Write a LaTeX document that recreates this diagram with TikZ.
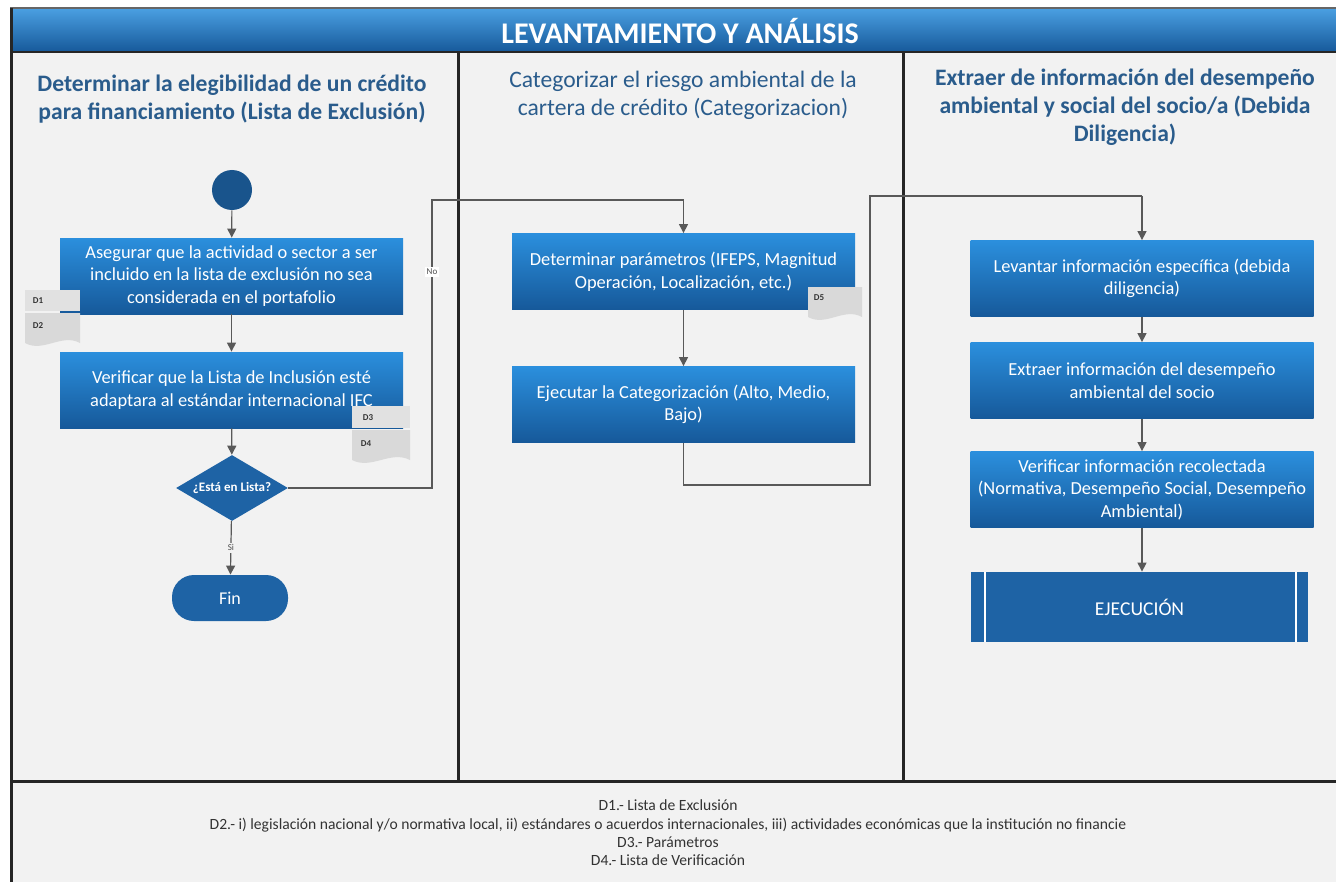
\documentclass[tikz,border=0pt]{standalone}
\usepackage{fontspec}
\setmainfont{Carlito}
\usetikzlibrary{positioning}
\usetikzlibrary{shapes.geometric}
\usetikzlibrary{arrows.meta}
\definecolor{fondo}{HTML}{F2F2F2}
\definecolor{azulclaro}{HTML}{2B8FDD}
\definecolor{azuloscuro}{HTML}{16599A}
\definecolor{azul}{HTML}{1E63A5}
\definecolor{titulo}{HTML}{2A5C8C}
\definecolor{gris}{HTML}{D9D9D9}
\newcommand\docshape[4]{% x, y top, width, height
  \fill[gris] (#1,#2) -- ++(#3,0) -- ++(0,#4)
    .. controls +(-#3/3,-10) and +(#3/3,10) .. ++(-#3,0) -- cycle;}

\tikzset{
  paso/.style={rectangle, minimum width=171.5pt, minimum height=38pt,
    inner sep=1pt, align=center, top color=azulclaro, bottom color=azuloscuro,
    text=white, font=\fontsize{9.2}{11.3}\selectfont},
  flecha/.style={draw=black!65, line width=0.6pt,
    -{Triangle[width=4.5pt,length=4.5pt]}},
  linea/.style={draw=black!65, line width=0.6pt},
  carril/.style={draw=black!85, line width=1.5pt},
  encabezado/.style={align=center, text=titulo,
    font=\fontsize{11.8}{14}\selectfont},
  etiqueta/.style={fill=white, inner sep=1pt, text=black!70,
    font=\fontsize{4.5}{5}\selectfont},
  docnombre/.style={font=\bfseries\fontsize{4.5}{5}\selectfont, text=black!80, inner sep=0pt}
}

\begin{document}
\begin{tikzpicture}[x=0.5pt, y=-0.5pt]

\useasboundingbox (0,0) rectangle (1336,882);
\fill[white] (0,0) rectangle (1336,882);
\fill[fondo] (10,8) rectangle (1336,882);

% barra de titulo
\shade[top color=azulclaro!85!white, bottom color=azuloscuro] (10,8) rectangle (1336,52);
\draw[black!85, line width=1.2pt] (10,52) -- (1336,52);
\draw[black!60, line width=0.8pt] (10,8) -- (1336,8);
\node[text=white, font=\bfseries\fontsize{15}{17}\selectfont] (titulo) at (680,31) {LEVANTAMIENTO Y ANÁLISIS};

% carriles
\draw[carril] (11,8) -- (11,882);
\draw[carril] (458,52) -- (458,781);
\draw[carril] (903,52) -- (903,781);
\draw[carril] (11,781) -- (1336,781);

\node[encabezado, font=\bfseries\fontsize{11.8}{14}\selectfont] (enc1) at (232,99)
  {Determinar la elegibilidad de un crédito\\para financiamiento (Lista de Exclusión)};
\node[encabezado] (enc2) at (683,95)
  {Categorizar el riesgo ambiental de la\\cartera de crédito (Categorizacion)};
\node[encabezado, font=\bfseries\fontsize{11.8}{14}\selectfont] (enc3) at (1125,107)
  {Extraer de información del desempeño\\ambiental y social del socio/a (Debida\\Diligencia)};

% carril 1
\node[circle, fill=azul!85!black, minimum size=20pt, inner sep=0pt] (inicio) at (232,190) {};
\node[paso] (b1) at (231.5,276) {Asegurar que la actividad o sector a ser\\incluido en la lista de exclusión no sea\\considerada en el portafolio};
\node[paso] (b2) at (231.5,390) {Verificar que la Lista de Inclusión esté\\adaptara al estándar internacional IFC};
\node[diamond, fill=azul, minimum width=56pt, minimum height=33pt, inner sep=0pt,
  label={[text=white, font=\bfseries\fontsize{6.5}{7}\selectfont]center:¿Está en Lista?}] (lista) at (232,488) {};
\node[rectangle, rounded corners=11pt, fill=azul, minimum width=58pt, minimum height=23pt,
  text=white, font=\fontsize{9}{10}\selectfont] (fin) at (230,598) {Fin};

% documentos D1 D2
\fill[gris!80] (25,290) rectangle (80,311);
\docshape{25}{313}{55}{30}
\node[docnombre] (d1) at (38,301) {D1};
\node[docnombre] (d2) at (38,326) {D2};
% documentos D3 D4
\fill[gris!80] (352,406) rectangle (410,428);
\docshape{352}{430}{58}{30}
\node[docnombre] (d3) at (368,418) {D3};
\node[docnombre] (d4) at (366,444) {D4};

% carril 2
\node[paso] (b3) at (683.5,271.5) {Determinar parámetros (IFEPS, Magnitud\\Operación, Localización, etc.)};
\node[paso] (b4) at (683.5,404.5) {Ejecutar la Categorización (Alto, Medio,\\Bajo)};
\docshape{808}{287}{54}{30}
\node[docnombre] (d5) at (819,298) {D5};

% carril 3
\node[paso] (b5) at (1142,278.5) {Levantar información específica (debida\\diligencia)};
\node[paso] (b6) at (1142,380.5) {Extraer información del desempeño\\ambiental del socio};
\node[paso] (b7) at (1142,489.5) {Verificar información recolectada\\(Normativa, Desempeño Social, Desempeño\\Ambiental)};
\node[rectangle, fill=azul, minimum width=168.5pt, minimum height=35pt,
  text=white, font=\fontsize{9.8}{11}\selectfont] (ejec) at (1139.5,607) {EJECUCIÓN};
\draw[white, line width=1pt] ([xshift=7pt]ejec.north west) -- ([xshift=7pt]ejec.south west);
\draw[white, line width=1pt] ([xshift=-6pt]ejec.north east) -- ([xshift=-6pt]ejec.south east);

% conectores
\coordinate (no1) at (432,488);
\coordinate (no2) at (432,200);
\coordinate (no3) at (683.5,200);
\coordinate (c1) at (683.5,485);
\coordinate (c2) at (870,485);
\coordinate (c3) at (870,196);
\coordinate (c4) at (1142,196);

\draw[flecha] (inicio) -- (b1);
\draw[flecha] (b1) -- (b2);
\draw[flecha] (b2) -- (lista);
\draw[flecha] (lista) -- node[etiqueta, fill=fondo] {Si} (fin);
\draw[linea] (lista.east) -- (no1) -- node[etiqueta, pos=0.75] {No} (no2) -- (no3);
\draw[flecha] (no3) -- (b3);
\draw[flecha] (b3) -- (b4);
\draw[linea] (b4) -- (c1) -- (c2) -- (c3) -- (c4);
\draw[flecha] (c4) -- (b5);
\draw[flecha] (b5) -- (b6);
\draw[flecha] (b6) -- (b7);
\draw[flecha] (b7.south) -- (b7.south |- ejec.north);

% leyenda
\node[align=center, text=black!80, font=\fontsize{7.8}{9.2}\selectfont] (leyenda) at (668,833)
  {D1.- Lista de Exclusión\\
   D2.- i) legislación nacional y/o normativa local, ii) estándares o acuerdos internacionales, iii) actividades económicas que la institución no financie\\
   D3.- Parámetros\\
   D4.- Lista de Verificación};

\end{tikzpicture}
\end{document}
